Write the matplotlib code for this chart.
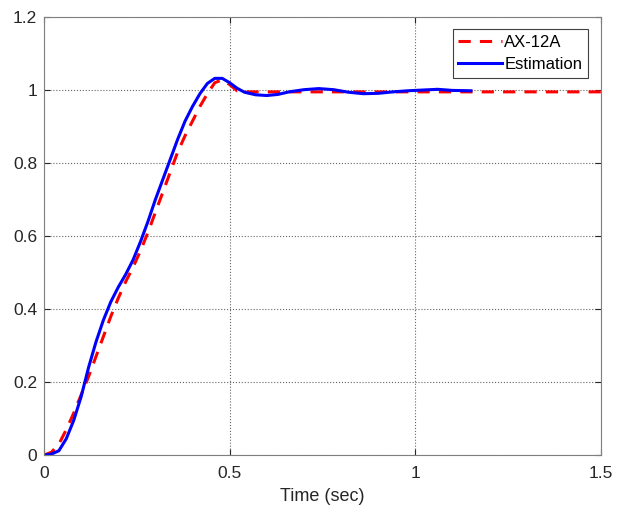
import matplotlib.pyplot as plt

# step response data
t_ax = [0, 0.02, 0.04, 0.06, 0.08, 0.10, 0.12, 0.14, 0.16, 0.18, 0.20, 0.22,
        0.24, 0.26, 0.28, 0.30, 0.32, 0.34, 0.36, 0.38, 0.40, 0.42, 0.44,
        0.46, 0.48, 0.50, 0.52, 0.55, 1.5]
y_ax = [0, 0.008, 0.03, 0.07, 0.115, 0.165, 0.215, 0.27, 0.325, 0.38, 0.43,
        0.475, 0.515, 0.56, 0.61, 0.665, 0.72, 0.775, 0.83, 0.875, 0.915,
        0.955, 0.99, 1.02, 1.028, 1.015, 0.998, 0.995, 0.995]

t_est = [0, 0.02, 0.04, 0.06, 0.08, 0.10, 0.12, 0.14, 0.16, 0.18, 0.20, 0.22,
         0.24, 0.26, 0.28, 0.30, 0.32, 0.34, 0.36, 0.38, 0.40, 0.42, 0.44,
         0.46, 0.48, 0.50, 0.52, 0.54, 0.57, 0.60, 0.63, 0.66, 0.70, 0.74,
         0.78, 0.82, 0.86, 0.90, 0.94, 0.98, 1.02, 1.06, 1.10, 1.15]
y_est = [0, 0.003, 0.012, 0.045, 0.095, 0.16, 0.24, 0.31, 0.37, 0.42, 0.46,
         0.495, 0.535, 0.585, 0.64, 0.70, 0.755, 0.81, 0.865, 0.915, 0.955,
         0.99, 1.018, 1.032, 1.032, 1.02, 1.005, 0.994, 0.987, 0.985, 0.988,
         0.995, 1.001, 1.004, 1.001, 0.994, 0.99, 0.991, 0.995, 0.998, 1.0,
         1.002, 0.999, 0.998]

xticks = [0, 0.5, 1, 1.5]
xtick_labels = ["0", "0.5", "1", "1.5"]
yticks = [0, 0.2, 0.4, 0.6, 0.8, 1.0, 1.2]
ytick_labels = ["0", "0.2", "0.4", "0.6", "0.8", "1", "1.2"]

plt.rcParams['font.family'] = ['Liberation Sans', 'DejaVu Sans']

fig = plt.figure(figsize=(6.24, 5.08), dpi=100)
ax = fig.add_axes([0.0705, 0.104, 0.8925, 0.8625])

ax.plot(t_ax, y_ax, color='red', linestyle='--', dashes=(4, 3), linewidth=2.2, label="AX-12A")
ax.plot(t_est, y_est, color='blue', linewidth=2.2, label="Estimation")

ax.set_xlim(0, 1.5)
ax.set_ylim(0, 1.2)
ax.set_xticks(xticks)
ax.set_xticklabels(xtick_labels)
ax.set_yticks(yticks)
ax.set_yticklabels(ytick_labels)
ax.tick_params(direction='in', length=4, labelsize=12.5, colors='#262626',
               top=True, right=True)
ax.tick_params(axis='x', pad=8)
ax.tick_params(axis='y', pad=5)
ax.grid(True, linestyle=':', color='#666666', linewidth=0.8)
for s in ax.spines.values():
    s.set_color('#7f7f7f')
ax.set_xlabel("Time (sec)", fontsize=13, color='#262626', labelpad=5)

leg = ax.legend(loc='upper right', bbox_to_anchor=(0.977, 0.973), borderaxespad=0,
                fontsize=12, fancybox=False, framealpha=1, edgecolor='#404040',
                handlelength=2.6, borderpad=0.35, labelspacing=0.45, handletextpad=0.15)
leg.get_frame().set_linewidth(0.8)

fig.savefig("out.png", dpi=100)
